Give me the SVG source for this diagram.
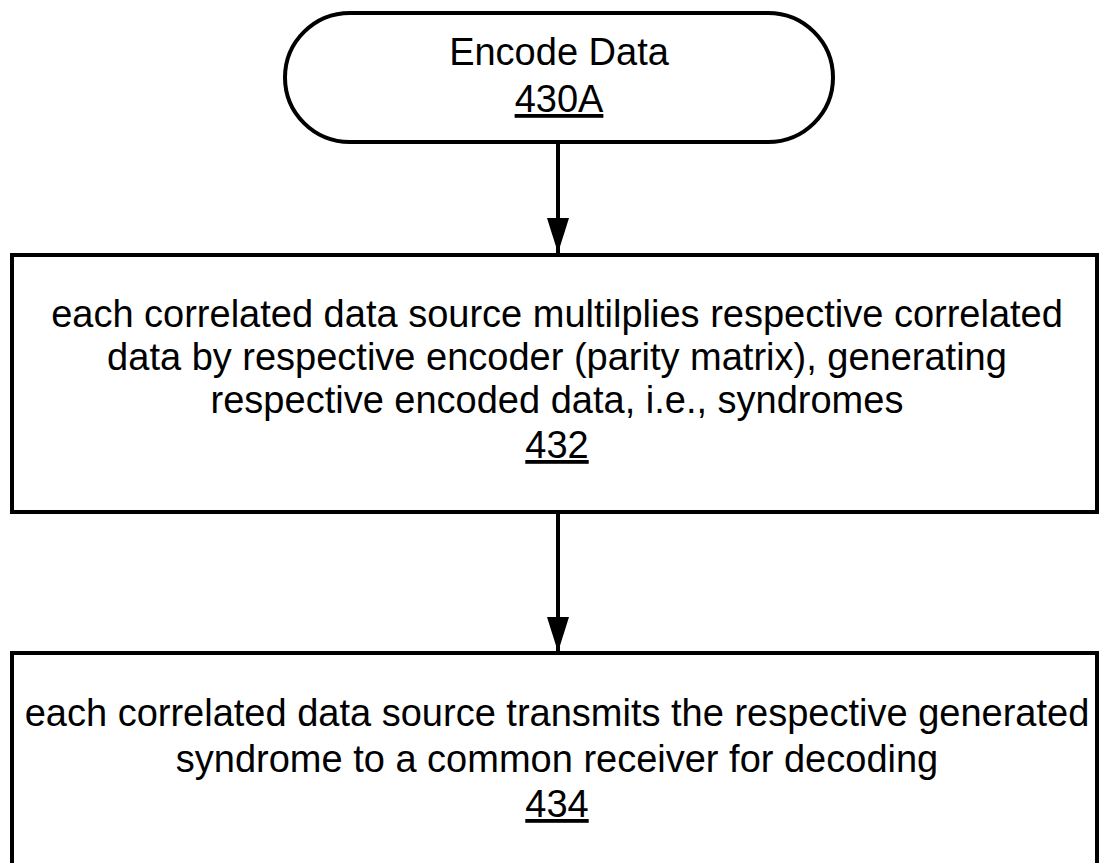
<svg xmlns="http://www.w3.org/2000/svg" width="1099" height="863" viewBox="0 0 1099 863">
  <style>
    .shape { fill: #ffffff; stroke: #000000; stroke-width: 4; }
    .label { font-family: "Liberation Sans", Arial, Helvetica, sans-serif; font-size: 38px; fill: #000000; text-anchor: middle; }
    .ref { text-decoration: underline; }
    .edge { stroke: #000000; stroke-width: 4; fill: none; }
  </style>
  <defs>
    <!-- filled triangular head, drawn pointing along +x so orient="auto" follows the line -->
    <marker id="arrowhead" markerUnits="userSpaceOnUse" markerWidth="36" markerHeight="24" refX="35" refY="11" orient="auto" viewBox="0 0 36 22">
      <path d="M0,0 L35,11 L0,22 Z" fill="#000000"/>
    </marker>
  </defs>
  <rect width="1099" height="863" fill="#ffffff"/>

  <g id="node-430A">
    <rect class="shape" x="285" y="13" width="548" height="129" rx="65" ry="64.5"/>
    <text class="label" x="559" y="65">Encode Data</text>
    <text class="label ref" x="559" y="112">430A</text>
  </g>

  <g id="node-432">
    <rect class="shape" x="12" y="255" width="1085" height="257"/>
    <text class="label" x="557" y="327">each correlated data source multilplies respective correlated</text>
    <text class="label" x="557" y="370">data by respective encoder (parity matrix), generating</text>
    <text class="label" x="557" y="413">respective encoded data, i.e., syndromes</text>
    <text class="label ref" x="557" y="458">432</text>
  </g>

  <g id="node-434">
    <rect class="shape" x="12" y="653" width="1085" height="230"/>
    <text class="label" x="557" y="726">each correlated data source transmits the respective generated</text>
    <text class="label" x="557" y="772">syndrome to a common receiver for decoding</text>
    <text class="label ref" x="557" y="817">434</text>
  </g>

  <g id="connectors">
    <line class="edge" x1="558" y1="142" x2="558" y2="253" marker-end="url(#arrowhead)"/>
    <line class="edge" x1="558" y1="512" x2="558" y2="652" marker-end="url(#arrowhead)"/>
  </g>
</svg>
